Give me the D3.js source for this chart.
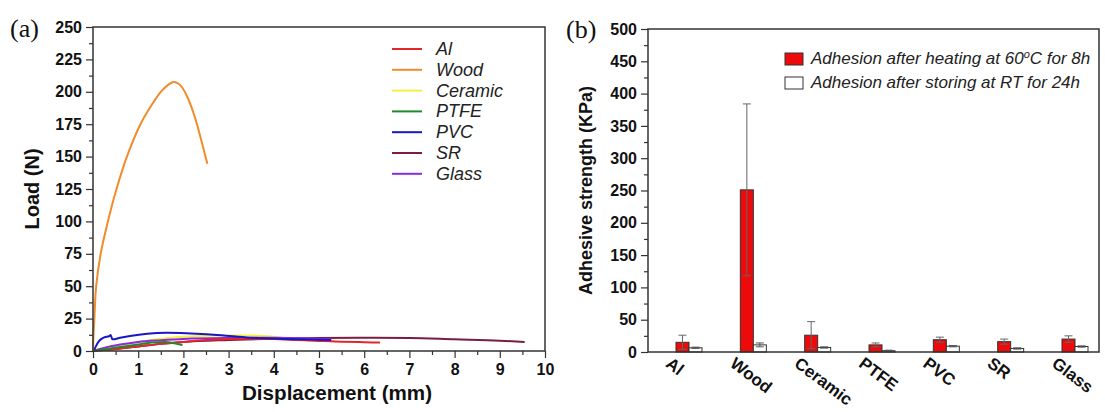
<!DOCTYPE html>
<html>
<head>
<meta charset="utf-8">
<script src="https://cdn.jsdelivr.net/npm/d3@7"></script>
<style>
  body { margin: 0; background: #fff; }
  svg text { font-family: Arial, 'Liberation Sans', sans-serif; }
</style>
</head>
<body>
<div class="fig"></div>
<script>
const width = 1105,
	height = 412

// ---- panel (a) data: load vs displacement, [mm, N]
const alCurve = [[0,0],[0.5,1.5],[1,3.5],[1.5,5.5],[2,7],[2.5,8.5],[3,9.3],[3.5,9.5],[4,9.2],[4.5,8.5],[5,7.8],[5.5,7.2],[6,6.8],[6.35,6.5]]
const woodCurve = [[0,0],[0.01,12],[0.03,25],[0.07,50],[0.17,75],[0.33,100],[0.52,125],[0.75,150],[1.05,175],[1.3,190],[1.5,200],[1.65,205],[1.79,207.5],[1.9,206],[1.97,203.5],[2.1,195],[2.2,186],[2.3,175],[2.4,162],[2.53,144.5]]
const ceramicCurve = [[0,0],[0.5,4],[1,7],[1.5,9.5],[2,11],[2.5,11.8],[3,12],[3.5,12],[4,11],[4.5,9],[4.8,8]]
const ptfeCurve = [[0,0],[0.3,1.5],[0.6,3],[1,5],[1.3,6.5],[1.6,7],[1.8,6],[1.98,4.5]]
const pvcCurve = [[0,0],[0.04,2],[0.1,6],[0.15,8.3],[0.25,10.5],[0.36,11.5],[0.39,12.3],[0.43,9],[0.6,10.2],[0.82,11.6],[1.2,13.3],[1.63,14],[2.29,13.4],[3.02,11.6],[3.53,10.2],[4.28,9.3],[5.27,8.5]]
const srCurve = [[0,0],[0.5,1.5],[1,3.5],[1.5,5.5],[2,7],[3,8.5],[4,9.5],[5,10],[6,10.3],[7,10],[8,9],[9,8],[9.55,7]]
const glassCurve = [[0,0],[0.3,3],[0.6,5],[1,7],[1.5,8.3],[2,9.3],[3,10],[4,10.2],[4.7,9.8],[5.27,9]]

const curveNames = ['Al', 'Wood', 'Ceramic', 'PTFE', 'PVC', 'SR', 'Glass']
const curveColors = ['#e3262b', '#f08c2a', '#f4ee3c', '#23882a', '#1717c8', '#7a1c44', '#8a2be2']
const curves = [alCurve, woodCurve, ceramicCurve, ptfeCurve, pvcCurve, srCurve, glassCurve]
// draw order so the long SR line sits under the others like the original
const drawOrder = [5, 2, 6, 0, 3, 4, 1]

// ---- panel (b) data: adhesive strength (KPa)
const materials = ['Al', 'Wood', 'Ceramic', 'PTFE', 'PVC', 'SR', 'Glass']
const heated = [15, 251, 26, 11, 19, 16, 20]
const heatedErr = [11, 133, 21, 3, 4, 4, 5]
const stored = [6.5, 11, 7, 2, 9, 5.5, 8.5]
const storedErr = [1, 3, 1, 0.8, 1, 1, 1]
const seriesLabels = ['Adhesion after heating at 60', 'Adhesion after storing at RT for 24h']

const svg = d3.select('.fig').append('svg')
	.attr('width', width).attr('height', height)

svg.append('rect').attr('width', width).attr('height', height).attr('fill', '#fff')

function drawAxes(g, x, y, opts) {
	const [x0, x1] = opts.xr, [y0, y1] = opts.yr
	// minor ticks
	g.append('g').attr('transform', `translate(${x0},0)`)
		.call(d3.axisLeft(y).tickValues(opts.yMinor).tickSize(4).tickFormat(''))
		.call(s => s.select('.domain').remove())
	g.append('g').attr('transform', `translate(${x0},0)`)
		.call(d3.axisLeft(y).tickValues(opts.yMajor).tickSize(7).tickPadding(4))
		.call(s => s.select('.domain').remove())
		.call(s => s.selectAll('text').style('font-size', '16px').style('font-weight', 'bold').attr('fill', '#111'))
	if (opts.xMajor) {
		g.append('g').attr('transform', `translate(0,${y0})`)
			.call(d3.axisBottom(x).tickValues(opts.xMinor).tickSize(4).tickFormat(''))
			.call(s => s.select('.domain').remove())
		g.append('g').attr('transform', `translate(0,${y0})`)
			.call(d3.axisBottom(x).tickValues(opts.xMajor).tickSize(7).tickPadding(6))
			.call(s => s.select('.domain').remove())
			.call(s => s.selectAll('text').style('font-size', '16px').style('font-weight', 'bold').attr('fill', '#111'))
	}
	g.selectAll('.tick line').attr('stroke', '#333').attr('stroke-width', 1.2)
	// frame
	g.append('rect')
		.attr('x', x0).attr('y', y1).attr('width', x1 - x0).attr('height', y0 - y1)
		.attr('fill', 'none').attr('stroke', '#333').attr('stroke-width', 1.5)
}

// ================= panel (a)
const ga = svg.append('g')
const xA = d3.scaleLinear().domain([0, 10]).range([93, 545])
const yA = d3.scaleLinear().domain([0, 250]).range([351, 27])

const line = d3.line().x(d => xA(d[0])).y(d => yA(d[1])).curve(d3.curveMonotoneX)
const smooth = d3.line().x(d => xA(d[0])).y(d => yA(d[1])).curve(d3.curveCatmullRom.alpha(0.5))

drawOrder.forEach(i => {
	ga.append('path')
		.datum(curves[i])
		.attr('fill', 'none')
		.attr('stroke', curveColors[i])
		.attr('stroke-width', 2)
		.attr('stroke-linejoin', 'round')
		.attr('d', i === 1 ? smooth : line)
})

drawAxes(ga, xA, yA, {
	xr: [93, 545], yr: [351, 27],
	yMajor: d3.range(0, 251, 25), yMinor: d3.range(12.5, 250, 25),
	xMajor: d3.range(0, 11, 1), xMinor: d3.range(0.5, 10, 1)
})

// legend (a)
curveNames.forEach((name, i) => {
	const ly = 49 + i * 20.8
	ga.append('line')
		.attr('x1', 392).attr('x2', 422).attr('y1', ly).attr('y2', ly)
		.attr('stroke', curveColors[i]).attr('stroke-width', 2)
	ga.append('text')
		.attr('x', 436).attr('y', ly + 6)
		.style('font-size', '18px').style('font-style', 'italic')
		.attr('fill', '#222')
		.text(name)
})

ga.append('text')
	.attr('transform', `translate(${93 - 54},${(27 + 351) / 2}) rotate(-90)`)
	.attr('text-anchor', 'middle')
	.style('font-size', '20px').style('font-weight', 'bold').attr('fill', '#111')
	.text('Load (N)')

ga.append('text')
	.attr('x', 337).attr('y', 400)
	.attr('text-anchor', 'middle')
	.attr('textLength', 190).attr('lengthAdjust', 'spacingAndGlyphs')
	.style('font-size', '20px').style('font-weight', 'bold').attr('fill', '#111')
	.text('Displacement (mm)')

ga.append('text')
	.attr('x', 10).attr('y', 37)
	.style('font-family', "'Liberation Serif', 'Times New Roman', serif")
	.style('font-size', '26px').attr('fill', '#111')
	.text('(a)')

// ================= panel (b)
const gb = svg.append('g')
const bx0 = 648, bx1 = 1099
const xB = d3.scalePoint().domain(materials).range([bx0 + 41, bx1 - 24])
const yB = d3.scaleLinear().domain([0, 500]).range([352, 29])
const barW = 13

const groups = gb.selectAll('g.grp').data(materials).enter().append('g')

groups.append('rect')
	.attr('x', d => xB(d) - barW)
	.attr('y', (d, i) => yB(heated[i]))
	.attr('width', barW)
	.attr('height', (d, i) => yB(0) - yB(heated[i]))
	.attr('fill', '#ee0a0a').attr('stroke', '#333').attr('stroke-width', 1)

groups.append('rect')
	.attr('x', d => xB(d))
	.attr('y', (d, i) => yB(stored[i]))
	.attr('width', barW)
	.attr('height', (d, i) => yB(0) - yB(stored[i]))
	.attr('fill', '#fff').attr('stroke', '#333').attr('stroke-width', 1)

function errBar(sel, vals, errs, offset, color) {
	sel.each(function (d, i) {
		const g = d3.select(this)
		const cx = xB(d) + offset
		const top = yB(vals[i] + errs[i]), bot = yB(Math.max(0, vals[i] - errs[i]))
		g.append('line').attr('x1', cx).attr('x2', cx).attr('y1', top).attr('y2', bot)
			.attr('stroke', color).attr('stroke-width', 1)
		;[top, bot].forEach(yy => g.append('line')
			.attr('x1', cx - 4).attr('x2', cx + 4).attr('y1', yy).attr('y2', yy)
			.attr('stroke', color).attr('stroke-width', 1))
	})
}
errBar(groups, heated, heatedErr, -barW / 2, '#666')
errBar(groups, stored, storedErr, barW / 2, '#555')

drawAxes(gb, null, yB, {
	xr: [bx0, bx1], yr: [352, 29],
	yMajor: d3.range(0, 501, 50), yMinor: d3.range(25, 500, 50)
})

// rotated category labels
materials.forEach(m => {
	gb.append('text')
		.attr('transform', `translate(${xB(m) - 17},356) rotate(37)`)
		.attr('dy', '0.72em')
		.style('font-size', '17px').style('font-weight', 'bold').attr('fill', '#111')
		.text(m)
})

gb.append('text')
	.attr('transform', `translate(${bx0 - 56},${(29 + 352) / 2}) rotate(-90)`)
	.attr('text-anchor', 'middle')
	.style('font-size', '18px').style('font-weight', 'bold').attr('fill', '#111')
	.text('Adhesive strength (KPa)')

gb.append('text')
	.attr('x', 566).attr('y', 38)
	.style('font-family', "'Liberation Serif', 'Times New Roman', serif")
	.style('font-size', '26px').attr('fill', '#111')
	.text('(b)')

// legend (b)
const legFills = ['#ee0a0a', '#fff']
legFills.forEach((f, i) => {
	const ly = 53 + i * 24
	gb.append('rect')
		.attr('x', 785).attr('y', ly).attr('width', 18).attr('height', 12)
		.attr('fill', f).attr('stroke', '#333').attr('stroke-width', 1)
	const t = gb.append('text')
		.attr('x', 811).attr('y', ly + 11)
		.style('font-size', '17px').style('font-style', 'italic').attr('fill', '#222')
		.text(seriesLabels[i])
	if (i === 0) {
		t.append('tspan').attr('dy', -6).style('font-size', '11px').text('o')
		t.append('tspan').attr('dy', 6).text('C for 8h')
	}
})
</script>
</body>
</html>
